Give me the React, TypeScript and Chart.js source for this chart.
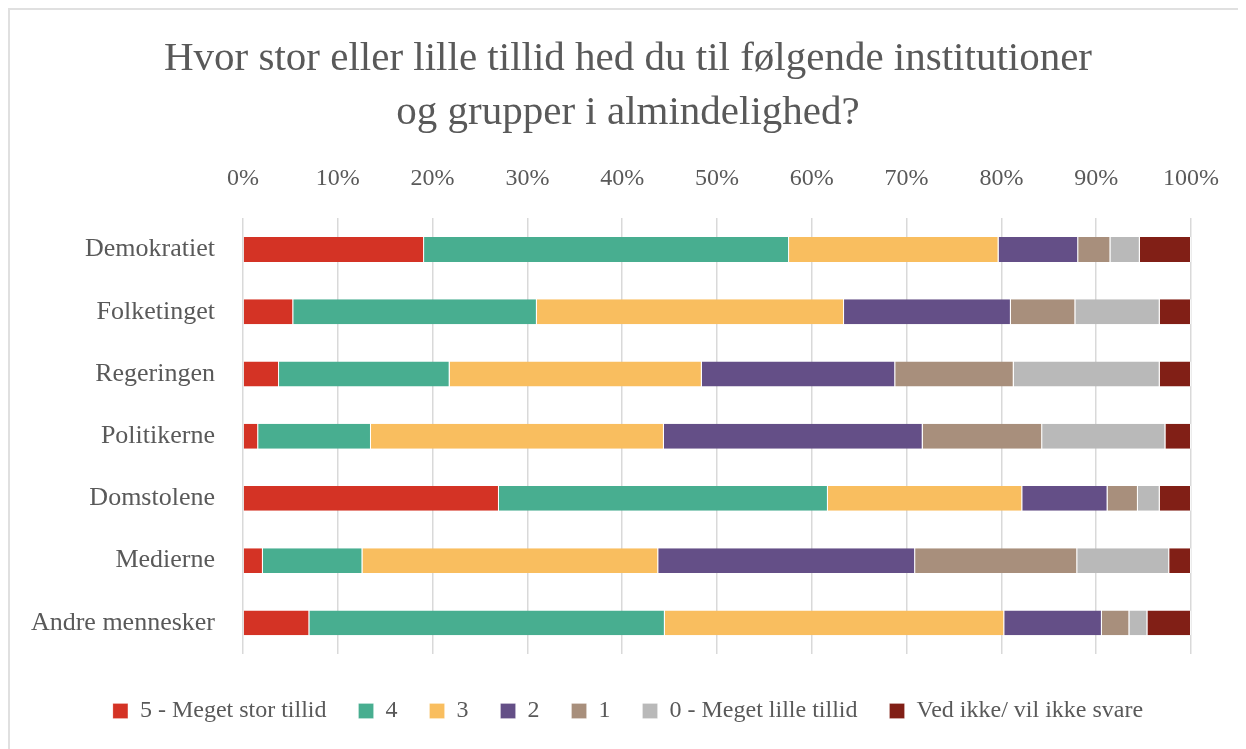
import React, { useEffect, useRef } from "react";
import { Chart, registerables } from "chart.js";

Chart.register(...registerables);

const categories = [
  "Demokratiet",
  "Folketinget",
  "Regeringen",
  "Politikerne",
  "Domstolene",
  "Medierne",
  "Andre mennesker",
];

const seriesNames = [
  "5 - Meget stor tillid",
  "4",
  "3",
  "2",
  "1",
  "0 - Meget lille tillid",
  "Ved ikke/ vil ikke svare",
];

const s5 = [19.1, 5.3, 3.8, 1.6, 27.0, 2.1, 7.0];
const s4 = [38.5, 25.7, 18.0, 11.9, 34.7, 10.5, 37.5];
const s3 = [22.1, 32.4, 26.6, 30.9, 20.5, 31.2, 35.8];
const s2 = [8.4, 17.6, 20.4, 27.3, 9.0, 27.1, 10.3];
const s1 = [3.4, 6.8, 12.5, 12.6, 3.2, 17.1, 2.9];
const s0 = [3.1, 8.9, 15.4, 13.0, 2.3, 9.7, 1.9];
const sVed = [5.4, 3.3, 3.3, 2.7, 3.3, 2.3, 4.6];

const seriesValues = [s5, s4, s3, s2, s1, s0, sVed];
const colors = ["#D43325", "#48AE90", "#F9BE5F", "#644F87", "#A88F7C", "#B9B9B9", "#811F16"];

const titleLines = [
  "Hvor stor eller lille tillid hed du til følgende institutioner",
  "og grupper i almindelighed?",
];

const FONT = "'Liberation Serif', 'DejaVu Serif', serif";

export default function App() {
  const ref = useRef<HTMLCanvasElement | null>(null);

  useEffect(() => {
    if (!ref.current) return;
    const chart = new Chart(ref.current, {
      type: "bar",
      data: {
        labels: categories,
        datasets: seriesNames.map((name, i) => ({
          label: name,
          data: seriesValues[i],
          xAxisID: "x",
          yAxisID: "y",
          backgroundColor: colors[i],
          borderColor: "rgba(255,255,255,0.8)",
          borderWidth: { left: 0, right: 1, top: 0, bottom: 0 },
          barPercentage: 0.8,
          categoryPercentage: 0.5,
        })),
      },
      options: {
        indexAxis: "y",
        animation: false,
        responsive: false,
        maintainAspectRatio: false,
        layout: { padding: { left: 18, right: 18, top: 0, bottom: 16 } },
        plugins: {
          title: {
            display: true,
            text: titleLines,
            color: "#595959",
            font: { family: FONT, size: 41, weight: "normal", lineHeight: 1.3 },
            padding: { top: 23, bottom: 0 },
          },
          legend: {
            position: "bottom",
            labels: {
              color: "#595959",
              font: { family: FONT, size: 24 },
              boxWidth: 15,
              boxHeight: 15,
              padding: 32,
            },
          },
          tooltip: { enabled: false },
        },
        scales: {
          y: {
            stacked: true,
            ticks: {
              color: "#595959",
              font: { family: FONT, size: 26 },
              padding: 28,
            },
            grid: { display: false, drawTicks: false },
            border: { display: false },
            afterFit: (s: any) => {
              s.width = 215;
            },
          },
          x: {
            stacked: true,
            position: "top",
            min: 0,
            max: 100,
            ticks: {
              stepSize: 10,
              color: "#595959",
              font: { family: FONT, size: 24 },
              padding: 25,
              callback: (v: any) => v + "%",
            },
            grid: { color: "#D9D9D9", lineWidth: 1.5, drawTicks: false },
            border: { display: false },
          },
          xGap: {
            type: "linear",
            position: "bottom",
            display: true,
            ticks: { display: false },
            grid: { display: false, drawTicks: false },
            border: { display: false },
            afterFit: (s: any) => {
              s.height = 13;
            },
          },
          yGap: {
            type: "linear",
            position: "right",
            display: true,
            ticks: { display: false },
            grid: { display: false, drawTicks: false },
            border: { display: false },
            afterFit: (s: any) => {
              s.width = 37;
            },
          },
        },
      },
    });
    return () => chart.destroy();
  }, []);

  return (
    <div
      style={{
        width: 1240,
        height: 745,
        borderLeft: "2px solid #E0E0E0",
        borderTop: "2px solid #E0E0E0",
        background: "#fff",
        overflow: "hidden",
      }}
    >
      <canvas ref={ref} width={1236} height={739} style={{ display: "block" }} />
    </div>
  );
}
